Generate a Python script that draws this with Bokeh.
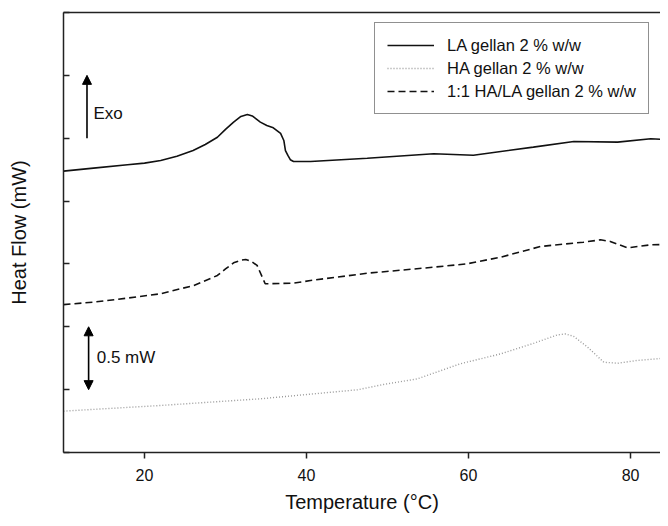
from bokeh.plotting import figure
from bokeh.models import (Range1d, FixedTicker, LinearAxis, Legend, LegendItem,
                          Arrow, NormalHead, Label, Title, CustomJSTickFormatter)
from bokeh.embed import file_html
from bokeh.resources import INLINE

# Temperature (°C) and heat flow (mW)
la_t = [10.0, 13.7, 17.9, 20.0, 22.0, 24.0, 26.0, 27.5, 29.0, 30.0, 31.0, 31.9, 32.7,
        33.3, 34.3, 35.1, 35.9, 36.8, 37.2, 37.4, 37.7, 38.0, 38.4, 40.5, 47.5, 55.7,
        60.6, 68.0, 73.0, 78.4, 82.5, 84.7]
la_hf = [2.238, 2.262, 2.289, 2.302, 2.323, 2.357, 2.402, 2.450, 2.508, 2.570, 2.628,
         2.673, 2.689, 2.677, 2.628, 2.601, 2.583, 2.538, 2.482, 2.402, 2.363, 2.329,
         2.315, 2.315, 2.341, 2.376, 2.365, 2.429, 2.474, 2.469, 2.496, 2.488]

ha_t = [10.0, 22.0, 34.3, 46.3, 49.5, 53.7, 59.0, 64.0, 68.1, 71.0, 72.0, 73.0, 74.7,
        76.7, 78.4, 80.8, 84.7]
ha_hf = [0.329, 0.374, 0.427, 0.499, 0.541, 0.586, 0.706, 0.785, 0.870, 0.936, 0.943,
         0.923, 0.838, 0.718, 0.710, 0.732, 0.753]

mix_t = [10.0, 13.7, 17.9, 22.0, 26.1, 29.0, 30.0, 31.0, 32.0, 32.5, 33.2, 33.9, 34.9,
         38.4, 40.5, 47.5, 55.7, 59.8, 64.0, 68.9, 74.2, 76.3, 77.5, 79.6, 82.5, 84.7]
mix_hf = [1.176, 1.196, 1.228, 1.263, 1.329, 1.408, 1.460, 1.509, 1.531, 1.535, 1.520,
          1.488, 1.342, 1.347, 1.368, 1.426, 1.474, 1.501, 1.554, 1.639, 1.673, 1.692,
          1.679, 1.628, 1.652, 1.655]

x_ticks = [20, 40, 60, 80]
y_ticks = [0, 0.5, 1.0, 1.5, 2.0, 2.5, 3.0, 3.5]

FONT = "Liberation Sans"
AX = "#222222"
TXT = "#111111"

p = figure(width=660, height=518, output_backend="svg", toolbar_location=None,
           x_range=Range1d(10, 83.7), y_range=Range1d(0, 3.5),
           min_border_left=63, min_border_right=0, min_border_top=12,
           min_border_bottom=66)
p.outline_line_color = None
p.grid.visible = False
p.background_fill_color = "white"
p.border_fill_color = "white"

# x axis
p.xaxis.ticker = FixedTicker(ticks=x_ticks)
p.xaxis.major_tick_out = 6
p.xaxis.major_tick_in = 0
p.xaxis.minor_tick_line_color = None
p.xaxis.axis_line_color = AX
p.xaxis.axis_line_width = 1.5
p.xaxis.major_tick_line_color = AX
p.xaxis.major_tick_line_width = 1.5
p.xaxis.major_label_text_font = FONT
p.xaxis.major_label_text_font_size = "16px"
p.xaxis.major_label_text_color = TXT
p.xaxis.major_label_standoff = 10

# x axis title as a below title
xt = Title(text="Temperature (°C)", align="center", offset=7, standoff=11,
           text_font=FONT, text_font_size="20px", text_font_style="normal",
           text_color=TXT)
p.add_layout(xt, "below")

# y axis (ticks only, no numbers)
p.yaxis.ticker = FixedTicker(ticks=y_ticks)
p.yaxis.formatter = CustomJSTickFormatter(code="return ''")
p.yaxis.major_tick_in = 6
p.yaxis.major_tick_out = 0
p.yaxis.minor_tick_line_color = None
p.yaxis.axis_line_color = AX
p.yaxis.axis_line_width = 1.5
p.yaxis.major_tick_line_color = AX
p.yaxis.major_tick_line_width = 1.5
p.yaxis.axis_label = "Heat Flow (mW)"
p.yaxis.axis_label_text_font = FONT
p.yaxis.axis_label_text_font_size = "20px"
p.yaxis.axis_label_text_font_style = "normal"
p.yaxis.axis_label_text_color = TXT
p.yaxis.axis_label_standoff = 34

# top border
top = LinearAxis(ticker=FixedTicker(ticks=[]),
                 major_tick_out=0, major_tick_in=0, minor_tick_out=0, minor_tick_in=0,
                 axis_line_color=AX, axis_line_width=1.5)
p.add_layout(top, "above")

r_la = p.line(la_t, la_hf, line_color=TXT, line_width=1.6)
r_ha = p.line(ha_t, ha_hf, line_color="#9a9a9a", line_width=1.4, line_dash="1 2")
r_mix = p.line(mix_t, mix_hf, line_color=TXT, line_width=1.6, line_dash="7 4")

legend = Legend(items=[
    LegendItem(label="LA gellan 2 % w/w", renderers=[r_la]),
    LegendItem(label="HA gellan 2 % w/w", renderers=[r_ha]),
    LegendItem(label="1:1 HA/LA gellan 2 % w/w", renderers=[r_mix]),
], location=(311, 338))
legend.label_text_font = FONT
legend.label_text_font_size = "16.5px"
legend.label_text_color = TXT
legend.glyph_width = 47
legend.label_standoff = 13
legend.padding = 12
legend.spacing = 3
legend.label_height = 20
legend.glyph_height = 20
legend.border_line_color = AX
legend.border_line_width = 1.2
legend.background_fill_alpha = 1.0
legend.margin = 0
p.add_layout(legend)

# Exo arrow and scale bar
p.add_layout(Arrow(end=NormalHead(size=9, fill_color="black", line_color="black"),
                   x_start=12.9, y_start=2.5, x_end=12.9, y_end=3.0,
                   line_color="black", line_width=1.6))
p.add_layout(Label(x=13.7, y=2.70, text="Exo", text_baseline="middle",
                   text_font=FONT, text_font_size="17px", text_color=TXT))
p.add_layout(Arrow(start=NormalHead(size=9, fill_color="black", line_color="black"),
                   end=NormalHead(size=9, fill_color="black", line_color="black"),
                   x_start=13.1, y_start=0.5, x_end=13.1, y_end=1.0,
                   line_color="black", line_width=1.6))
p.add_layout(Label(x=14.1, y=0.758, text="0.5 mW", text_baseline="middle",
                   text_font=FONT, text_font_size="17px", text_color=TXT))

open("out.html", "w").write(file_html(p, INLINE))
